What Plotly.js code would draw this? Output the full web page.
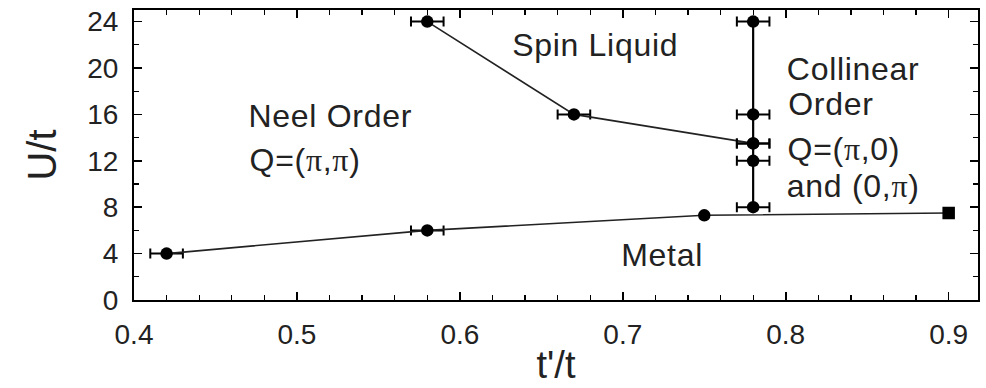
<!DOCTYPE html>
<html>
<head>
<meta charset="utf-8">
<script src="https://cdn.plot.ly/plotly-3.0.1.min.js"></script>
<style>
html,body{margin:0;padding:0;background:#fff;}
#chart{width:986px;height:388px;}
#chart .annotation-text{letter-spacing:0.7px;}
</style>
</head>
<body>
<div id="chart"></div>
<script>
// Néel / metal boundary
const lowerX = [0.42, 0.58, 0.75, 0.9];
const lowerU = [4, 6, 7.3, 7.5];
const lowerErr = [0.01, 0.01, 0, 0];
const lowerSymbols = ['circle', 'circle', 'circle', 'square'];

// Néel / spin-liquid boundary
const upperX = [0.58, 0.67, 0.78];
const upperU = [24, 16, 13.5];
const upperErr = [0.01, 0.01, 0.01];

// Collinear order boundary at t'/t = 0.78
const vertX = [0.78, 0.78, 0.78, 0.78, 0.78];
const vertU = [8, 12, 13.5, 16, 24];
const vertErr = [0.01, 0.01, 0.01, 0.01, 0.01];

const xTicks = [0.4, 0.5, 0.6, 0.7, 0.8, 0.9];
const yTicks = [0, 4, 8, 12, 16, 20, 24];

const PI = '<span style="font-family:Liberation Serif">π</span>';
const regionLabels = [
  {text: 'Neel Order', x: 0.4712, y: 15.9},
  {text: 'Q=(' + PI + ',' + PI + ')', x: 0.4712, y: 12.1},
  {text: 'Spin Liquid', x: 0.6332, y: 22.0},
  {text: 'Collinear', x: 0.8012, y: 19.9},
  {text: 'Order', x: 0.8012, y: 16.9},
  {text: 'Q=(' + PI + ',0)', x: 0.8012, y: 13.0},
  {text: 'and (0,' + PI + ')', x: 0.8012, y: 9.8},
  {text: 'Metal', x: 0.699, y: 3.9}
];

const errStyle = (arr) => ({type: 'data', array: arr, visible: true, color: '#000', thickness: 2, width: 5});

const traces = [
  {x: lowerX, y: lowerU, mode: 'lines+markers', type: 'scatter',
   line: {color: '#222', width: 1.6},
   marker: {color: '#000', size: 12.5, symbol: lowerSymbols},
   error_x: errStyle(lowerErr), showlegend: false},
  {x: upperX, y: upperU, mode: 'lines+markers', type: 'scatter',
   line: {color: '#222', width: 1.6},
   marker: {color: '#000', size: 12.5},
   error_x: errStyle(upperErr), showlegend: false},
  {x: vertX, y: vertU, mode: 'lines+markers', type: 'scatter',
   line: {color: '#000', width: 2.2},
   marker: {color: '#000', size: 12.5},
   error_x: errStyle(vertErr), showlegend: false}
];

const axisCommon = {
  showgrid: false, zeroline: false,
  showline: true, linecolor: '#000', linewidth: 2, mirror: 'ticks',
  ticks: 'inside', ticklen: 8, tickwidth: 1.6, tickcolor: '#000',
  tickfont: {family: 'Liberation Sans, Arial, sans-serif', size: 28, color: '#222'},
  ticklabelstandoff: 8
};

const layout = {
  width: 986, height: 388,
  margin: {l: 134, r: 8, t: 10, b: 88},
  paper_bgcolor: '#fff', plot_bgcolor: '#fff',
  font: {family: 'Liberation Sans, Arial, sans-serif', color: '#222'},
  xaxis: Object.assign({}, axisCommon, {
    range: [0.4, 0.918], tickvals: xTicks, ticktext: xTicks.map(v => v.toFixed(1)),
    minor: {dtick: 0.02, ticks: 'inside', ticklen: 5, tickwidth: 1.3, tickcolor: '#000'},
    title: {text: "t'/t", font: {size: 38, color: '#222'}, standoff: 3}
  }),
  yaxis: Object.assign({}, axisCommon, {
    range: [0, 25], tickvals: yTicks, ticktext: yTicks.map(String),
    minor: {dtick: 2, ticks: 'inside', ticklen: 5, tickwidth: 1.3, tickcolor: '#000'},
    title: {text: 'U/t', font: {size: 40, color: '#222'}, standoff: 18}
  }),
  annotations: regionLabels.map(l => ({
    text: l.text, x: l.x, y: l.y, xref: 'x', yref: 'y',
    xanchor: 'left', yanchor: 'middle', showarrow: false,
    font: {size: 32, color: '#222', family: 'Liberation Sans, Arial, sans-serif'}
  }))
};

Plotly.newPlot('chart', traces, layout, {displayModeBar: false, staticPlot: true});
</script>
</body>
</html>
